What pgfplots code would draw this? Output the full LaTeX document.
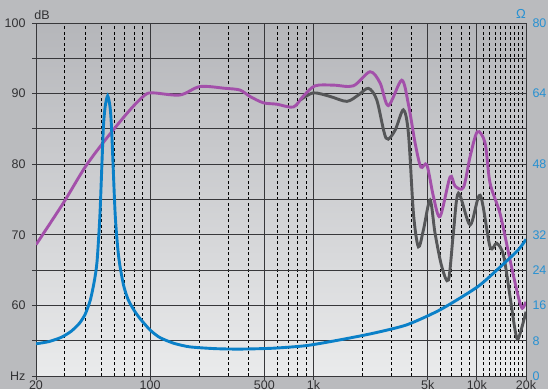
\documentclass[border=0pt]{standalone}
\usepackage{fontspec}
\setmainfont{Liberation Sans}
\usepackage{pgfplots}
\pgfplotsset{compat=1.18}
\usetikzlibrary{backgrounds}
\definecolor{bgout}{RGB}{186,187,190}
\definecolor{bgtop}{RGB}{181,182,186}
\definecolor{bgbot}{RGB}{234,235,236}
\definecolor{cpurple}{RGB}{163,80,170}
\definecolor{cgray}{RGB}{85,86,88}
\definecolor{cblue}{RGB}{10,128,200}
\definecolor{clabblue}{RGB}{40,145,210}
\definecolor{ctext}{RGB}{50,50,52}
\definecolor{cgrid}{RGB}{55,55,58}
\begin{document}
\begin{tikzpicture}[x=1pt,y=1pt]
\begin{axis}[
  at={(0,0)}, anchor=south west,
  scale only axis, width=490pt, height=353pt,
  xmode=log, xmin=20, xmax=20000, ymin=50, ymax=100,
  xtick={20,100,500,1000,5000,10000,20000},
  xticklabels={20,100,500,1k,5k,10k,20k},
  minor xtick={30,40,50,60,70,80,90,200,300,400,600,700,800,900,2000,3000,4000,6000,7000,8000,9000,11000,12000,13000,14000,15000,16000,17000,18000,19000},
  ytick={50,55,60,65,70,75,80,85,90,95,100},
  yticklabels={Hz,,60,,70,,80,,90,,100},
  xtick pos=bottom, ytick pos=left,
  grid=both,
  major grid style={cgrid, line width=1pt},
  minor grid style={black, line width=0.8pt, dash pattern=on 3pt off 2.5pt},
  axis background/.style={top color=bgtop, bottom color=bgbot},
  tick align=outside, major tick length=4pt, minor tick length=0pt,
  tick style={cgrid, line width=1pt},
  axis line style={cgrid, line width=1pt},
  tick label style={font=\fontsize{12.5}{15}\selectfont, text=ctext},
  yticklabel style={xshift=-3pt},
  xticklabel style={yshift=3pt},
  /pgf/number format/assume math mode=true,
  clip=true,
]
% gray curve (beneath)
\addplot[cgray, line width=2.9pt, smooth, tension=0.5] coordinates {
(830,89.1) (998,90.1) (1262,89.6) (1600,88.9) (1884,89.8) (2168,90.75) (2440,89.1)
(2780,83.7) (3155,84.8) (3549,87.7) (3811,84.4) (4093,73.0) (4386,68.3) (4710,70.7)
(5174,74.9) (5549,70.2) (6100,65.5) (6700,63.6) (7180,70.2) (7712,75.9) (9098,71.4)
(10480,75.6) (12050,68.3) (13250,68.8) (14560,67.1) (15980,61.2) (17150,56.5)
(17950,55.3) (20000,59.1)
};
% purple curve
\addplot[cpurple, line width=2.9pt, smooth, tension=0.5] coordinates {
(20,68.6) (29.4,74.5) (40,79.6) (54.2,83.7) (75.3,87.7) (92.9,89.8) (104.6,90.1)
(152,89.8) (202,91.0) (287,90.75) (355,90.5) (408,89.6) (493,88.7) (596,88.5)
(753,88.1) (863,89.6) (1021,91.1) (1325,91.2) (1754,91.1) (2219,93.1) (2557,91.5)
(2872,88.3) (3468,91.9) (3811,88.5) (4188,83.0) (4540,79.6) (4944,79.9) (5424,75.4)
(5955,72.6) (6857,78.2) (7357,76.9) (8278,76.7) (9098,81.1) (10076,84.6) (11228,83.0)
(12050,77.3) (13870,73.0) (15980,66.4) (17950,61.2) (18950,59.6) (20000,60.5)
};
\end{axis}
\begin{axis}[
  at={(0,0)}, anchor=south west,
  scale only axis, width=490pt, height=353pt,
  xmode=log, xmin=20, xmax=20000, ymin=0, ymax=80,
  axis x line=none, axis y line*=right,
  ytick={0,8,16,24,32,48,64,80},
  major tick length=0pt,
  axis line style={cgrid, line width=1pt},
  tick label style={font=\fontsize{12.5}{15}\selectfont, text=clabblue},
  yticklabel style={xshift=3pt},
  /pgf/number format/assume math mode=true,
]
\addplot[cblue, line width=2.9pt, smooth, tension=0.4] coordinates {
(20,7.3) (24,7.8) (28.7,8.8) (33,10.2) (37,12.0) (40,14.0) (43,17.2) (45.5,21.5) (47.3,26)
(49.3,36.9) (51.6,55.7) (53.0,61) (54.9,63.5) (56.8,61) (58.1,55.7) (61,36.9)
(63.5,28.5) (65.4,24.8) (69,20.3) (73.5,17.2) (80,14.8) (86.7,13) (100,10.4)
(114.8,8.7) (140,7.4) (175,6.6) (250,6.2) (355,6.1) (568,6.3) (909,6.9) (1455,8.2)
(2328,9.7) (3725,11.6) (5955,15.0) (10000,20.1) (13250,24.0) (17950,28.6) (20000,31.0)
};
\end{axis}
\node[font=\fontsize{12.5}{15}\selectfont, text=ctext] at (6pt,361pt) {dB};
\node[font=\fontsize{13}{15}\selectfont, text=clabblue] at (485pt,362pt) {Ω};
\begin{pgfonlayer}{background}
\fill[bgout] (-36pt,-13pt) rectangle (512pt,376pt);
\end{pgfonlayer}
\pgfresetboundingbox
\useasboundingbox (-36pt,-13pt) rectangle (512pt,376pt);
\end{tikzpicture}
\end{document}
